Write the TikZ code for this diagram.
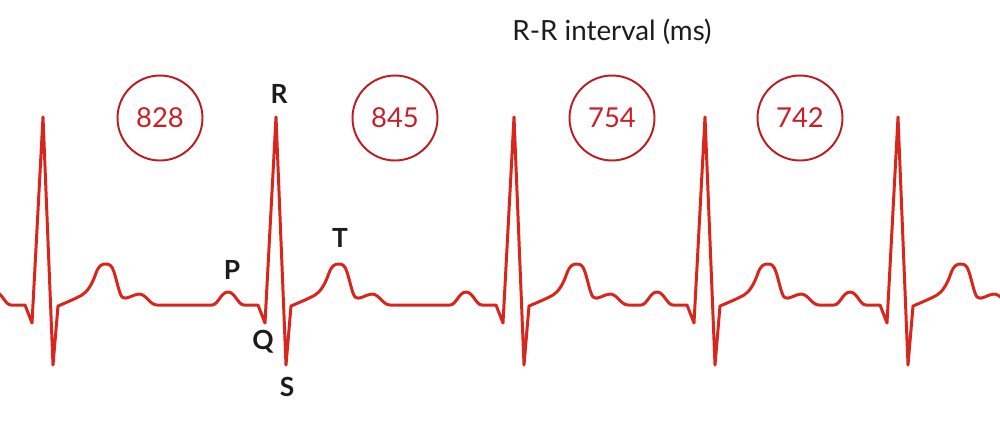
\documentclass[tikz,border=0pt]{standalone}
\usepackage{fontspec}
\setmainfont{Lato}
\definecolor{ecg}{RGB}{216,38,28}
\definecolor{ring}{RGB}{188,28,34}
\definecolor{numred}{RGB}{200,32,38}
\definecolor{txt}{RGB}{28,28,28}
\newcommand{\ecgbeat}[1]{%
 -- ({#1-64},305) .. controls ({#1-58},305) and ({#1-55},292) .. ({#1-48},292)
 .. controls ({#1-41},292) and ({#1-38},305) .. ({#1-32},305)
 -- ({#1-18},305) -- ({#1-11},323) -- (#1,117) -- ({#1+10},365) -- ({#1+15},306)
 .. controls ({#1+22},303) and ({#1+32},299) .. ({#1+39},295)
 .. controls ({#1+44},292) and ({#1+49},285) .. ({#1+53},273)
 .. controls ({#1+56},265) and ({#1+59},264) .. ({#1+63},264)
 .. controls ({#1+67},264) and ({#1+69},266) .. ({#1+71},272)
 .. controls ({#1+74},281) and ({#1+76},293) .. ({#1+79},297)
 .. controls ({#1+83},301) and ({#1+90},294) .. ({#1+96},294)
 .. controls ({#1+103},294) and ({#1+107},305) .. ({#1+114},305)
}
\begin{document}
\begin{tikzpicture}[x=0.02cm,y=-0.02cm,
  ecgline/.style={draw=ecg,line width=1.7pt,line join=round,line cap=round},
  rr/.style={circle,draw=ring,line width=1.1pt,minimum size=1.7cm,inner sep=0pt,
    text=numred,font=\fontsize{15.6}{18}\selectfont},
  wave/.style={text=txt,font=\fontsize{15}{18}\selectfont\bfseries,inner sep=0pt},
  title/.style={text=txt,font=\fontsize{15.8}{18}\selectfont,inner sep=0pt}]
\useasboundingbox (0,0) rectangle (1000,424);
\fill[white] (0,0) rectangle (1000,424);
\begin{scope}
\clip (0,0) rectangle (1000,424);
\draw[ecgline] (-30,305) \ecgbeat{43} \ecgbeat{276} \ecgbeat{514} \ecgbeat{705} \ecgbeat{898};
\end{scope}
\node[title] (title) at (612,32) {R-R interval (ms)};
\node[rr] (c1) at (160,118) {828};
\node[rr] (c2) at (395,118) {845};
\node[rr] (c3) at (612,118) {754};
\node[rr] (c4) at (800,118) {742};
\node[wave] (R) at (279,94) {R};
\node[wave] (P) at (232,270) {P};
\node[wave] (T) at (340,238) {T};
\node[wave] (Q) at (263,342) {Q};
\node[wave] (S) at (287,387) {S};
\end{tikzpicture}
\end{document}
